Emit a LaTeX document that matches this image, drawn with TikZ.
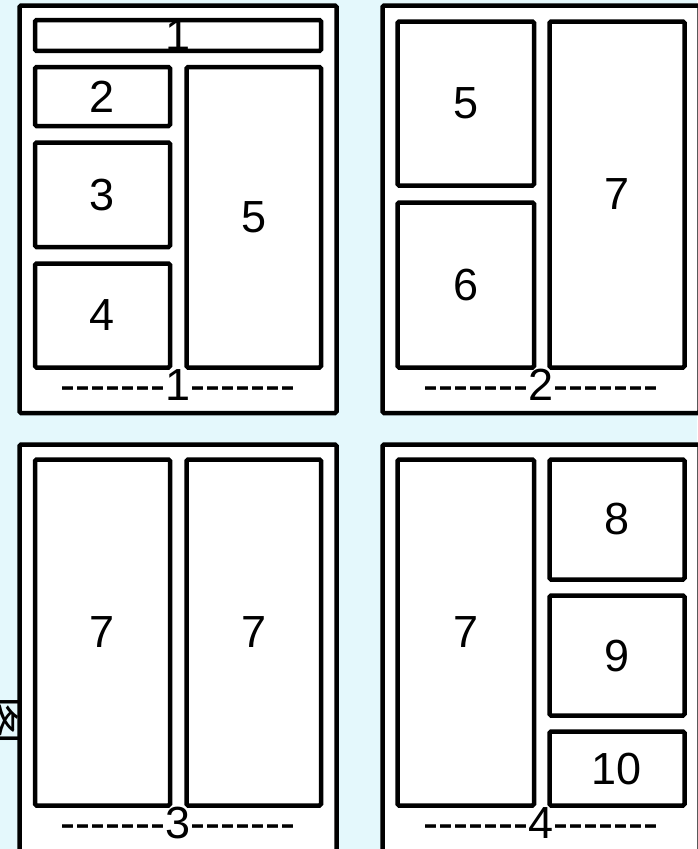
\documentclass[tikz,border=0pt]{standalone}
\usepackage{fontspec}
\setmainfont{Liberation Sans}[Ligatures=TeXOff]
\newfontfamily\cjkfont{Noto Sans CJK SC}
\usetikzlibrary{positioning}
\definecolor{pagebg}{HTML}{E4F8FC}
\tikzset{
  % cornice di un modello di pagina
  panel/.style={draw=black, line width=4.5pt, fill=white, rounded corners=1.5pt,
    inner sep=0pt},
  % riquadro numerato
  cell/.style={draw=black, line width=4.5pt, fill=white, rounded corners=1.5pt,
    inner sep=0pt, font=\fontsize{45}{54}\selectfont},
  % didascalia sotto il modello
  caption/.style={font=\fontsize{45}{54}\selectfont, anchor=base, inner sep=0pt},
}
% riquadro dati gli angoli (x1,y1) e (x2,y2)
\newcommand{\layoutbox}[7][cell]{%
  \node[#1, minimum width={#5-#3}, minimum height={#6-#4}] (#2) at ({(#3+#5)/2},{(#4+#6)/2}) {#7};
}

\begin{document}
\begin{tikzpicture}[x=1pt, y=-1pt]
  \fill[pagebg] (0,0) rectangle (697,849);
  \useasboundingbox (0,0) rectangle (697,849);
  \node[font=\cjkfont\fontsize{48}{52}\selectfont, rotate=-90, inner sep=0pt] (side) at (2,720) {图};
  % modelli di pagina
  \layoutbox[panel]{pA}{19.5}{5.5}{336.5}{413}{}
  \layoutbox[panel]{pB}{382.5}{5.5}{699.5}{413}{}
  \layoutbox[panel]{pC}{19.5}{444.5}{336.5}{852}{}
  \layoutbox[panel]{pD}{382.5}{444.5}{699.5}{852}{}
  % 1
  \layoutbox{a1}{35}{20.5}{321}{50.5}{1}
  \layoutbox{a2}{35}{67}{170}{126}{2}
  \layoutbox{a3}{35}{142.5}{170}{247}{3}
  \layoutbox{a4}{35}{263.5}{170}{367.5}{4}
  \layoutbox{a5}{186.5}{67}{321}{367.5}{5}
  % 2
  \layoutbox{b5}{397.5}{21.5}{534}{185.5}{5}
  \layoutbox{b6}{397.5}{202.5}{534}{367.5}{6}
  \layoutbox{b7}{549.5}{21.5}{684.5}{367.5}{7}
  % 3
  \layoutbox{c7}{35}{459.5}{170}{805.5}{7}
  \layoutbox{c7b}{186.5}{459.5}{321}{805.5}{7}
  % 4
  \layoutbox{d7}{397.5}{459.5}{534}{805.5}{7}
  \layoutbox{d8}{549.5}{459.5}{684.5}{579.5}{8}
  \layoutbox{d9}{549.5}{595.5}{684.5}{715.5}{9}
  \layoutbox{d10}{549.5}{731.5}{684.5}{805.5}{10}
  % didascalie
  \node[caption] (capA) at (178,400) {-------1-------};
  \node[caption] (capB) at (541,400) {-------2-------};
  \node[caption] (capC) at (178,838) {-------3-------};
  \node[caption] (capD) at (541,838) {-------4-------};
\end{tikzpicture}
\end{document}
